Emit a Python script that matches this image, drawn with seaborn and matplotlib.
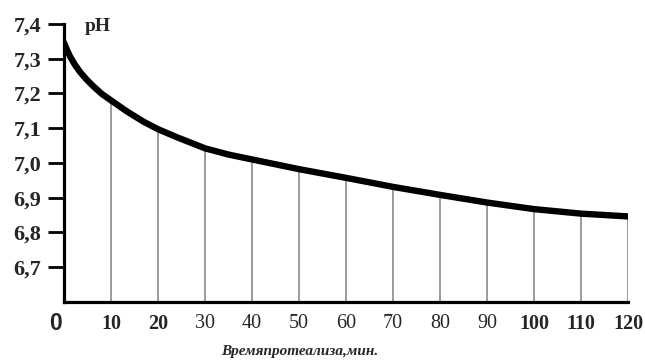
import matplotlib
matplotlib.use("Agg")
import matplotlib.pyplot as plt
import seaborn as sns

# Data
time_min = [0, 0.6, 1.3, 2.3, 3.4, 4.8, 6.2, 8, 10, 13.4, 17, 20, 24, 30, 35, 40, 45, 50, 60, 70, 80, 90, 100, 110, 120]
ph_values = [7.346, 7.326, 7.306, 7.283, 7.262, 7.240, 7.221, 7.199, 7.180, 7.148, 7.118,
             7.097, 7.074, 7.042, 7.024, 7.010, 6.996, 6.982, 6.957, 6.931, 6.908, 6.886,
             6.867, 6.854, 6.846]
x_ticks = [10, 20, 30, 40, 50, 60, 70, 80, 90, 100, 110, 120]
x_bold = [10, 20, 100, 110, 120]
y_ticks = [6.7, 6.8, 6.9, 7.0, 7.1, 7.2, 7.3, 7.4]
y_labels = ["6,7", "6,8", "6,9", "7,0", "7,1", "7,2", "7,3", "7,4"]
x_label = "Времяпротеализа,мин."
y_title = "pH"

sns.set_theme(style="white")
plt.rcParams['font.family'] = ['Liberation Serif', 'DejaVu Serif']

fig = plt.figure(figsize=(6.45, 3.62), dpi=100)
ax = fig.add_axes([0.0992, 0.166, 0.8744, 0.768])

# vertical grey lines from axis to curve at each 10 minutes
vl_x = [t for t in time_min if t in x_ticks]
vl_y = [ph_values[time_min.index(t)] for t in vl_x]
ax.vlines(vl_x, 6.6, vl_y, color="#8a8a8a", linewidth=1.2, zorder=1)

sns.lineplot(x=time_min, y=ph_values, ax=ax, color="black", linewidth=4.6,
             solid_capstyle="round", solid_joinstyle="round", zorder=3)

ax.set_xlim(0, 120)
ax.set_ylim(6.6, 7.4)

for s in ["top", "right"]:
    ax.spines[s].set_visible(False)
for s in ["left", "bottom"]:
    ax.spines[s].set_color("black")
    ax.spines[s].set_linewidth(2.3)
    ax.spines[s].set_zorder(4)

ax.set_yticks(y_ticks)
ax.set_yticklabels(y_labels, fontsize=16, fontweight="bold", family="Liberation Serif")
ax.tick_params(axis="y", direction="out", length=11.5, width=2, color="black", pad=5, left=True)

ax.set_xticks(x_ticks)
ax.set_xticklabels([str(t) for t in x_ticks], fontsize=14.5)
for lbl, t in zip(ax.get_xticklabels(), x_ticks):
    lbl.set_fontweight("bold" if t in x_bold else "normal")
ax.tick_params(axis="x", length=0, pad=9, bottom=False)

# "0" at origin, sans bold
ax.text(-1.9, 6.6 - 0.03, "0", ha="center", va="top",
        fontsize=16.5, fontweight="bold", family="Liberation Sans", clip_on=False)

ax.text(7.3, 7.393, y_title, ha="center", va="center", fontsize=14,
        fontweight="bold", family="Liberation Serif", clip_on=False)

fig.text(300 / 645, 1 - 351 / 362, x_label, ha="center", va="center",
         fontsize=11, fontweight="bold", fontstyle="italic", family="Liberation Serif")

ax.set_xlabel("")
ax.set_ylabel("")
fig.savefig("out.png", dpi=100)
